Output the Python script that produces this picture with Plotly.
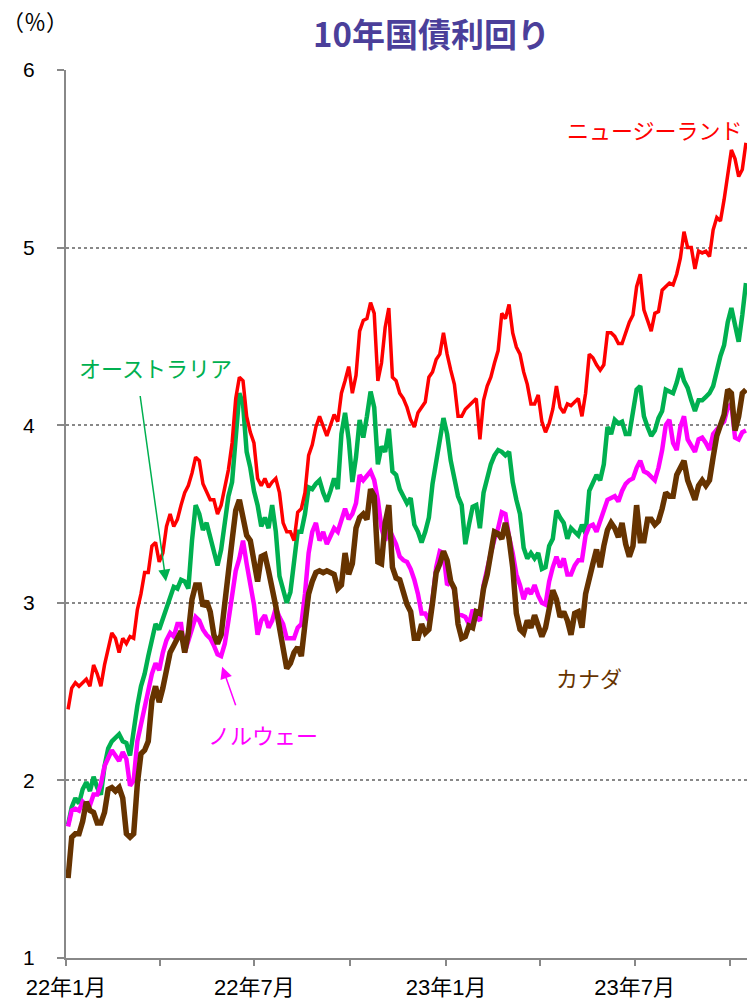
import pandas as pd
import plotly.graph_objects as go

# observation dates: every 3.5 days from 2022-01-03 to 2023-10-16
dates = pd.date_range("2022-01-03", periods=187, freq="84h")

nz = [2.40, 2.52, 2.55, 2.53, 2.55, 2.57, 2.53, 2.65, 2.60, 2.53,
      2.65, 2.75, 2.83, 2.80, 2.72, 2.80, 2.77, 2.81, 2.80, 2.96,
      3.05, 3.17, 3.17, 3.32, 3.34, 3.23, 3.28, 3.43, 3.50, 3.43,
      3.47, 3.55, 3.62, 3.66, 3.73, 3.82, 3.80, 3.67, 3.63, 3.58,
      3.58, 3.50, 3.55, 3.66, 3.75, 3.90, 4.15, 4.27, 4.25, 4.05,
      3.96, 3.90, 3.70, 3.66, 3.70, 3.65, 3.68, 3.70, 3.62, 3.45,
      3.40, 3.40, 3.35, 3.51, 3.53, 3.62, 3.83, 3.89, 3.99, 4.05,
      4.00, 3.94, 4.00, 4.06, 4.02, 4.18, 4.25, 4.33, 4.18, 4.28,
      4.53, 4.59, 4.60, 4.69, 4.63, 4.25, 4.35, 4.55, 4.66, 4.27,
      4.25, 4.18, 4.15, 4.10, 4.03, 3.99, 4.07, 4.10, 4.13, 4.27,
      4.30, 4.37, 4.40, 4.52, 4.40, 4.31, 4.23, 4.05, 4.05, 4.09,
      4.11, 4.13, 4.15, 3.92, 4.14, 4.22, 4.27, 4.35, 4.42, 4.63,
      4.60, 4.68, 4.52, 4.44, 4.40, 4.30, 4.23, 4.12, 4.12, 4.17,
      4.02, 3.96, 4.01, 4.09, 4.22, 4.10, 4.07, 4.12, 4.11, 4.13,
      4.15, 4.05, 4.18, 4.40, 4.38, 4.34, 4.31, 4.34, 4.52, 4.52,
      4.50, 4.46, 4.46, 4.52, 4.58, 4.62, 4.78, 4.85, 4.65, 4.59,
      4.53, 4.63, 4.64, 4.76, 4.78, 4.80, 4.79, 4.85, 4.94, 5.09,
      5.00, 5.00, 4.88, 4.98, 4.97, 4.98, 4.95, 5.10, 5.17, 5.15,
      5.27, 5.40, 5.55, 5.50, 5.40, 5.44, 5.59]

au = [1.75, 1.85, 1.90, 1.87, 1.95, 1.99, 1.94, 2.02, 1.96, 1.92,
      2.08, 2.18, 2.22, 2.24, 2.26, 2.22, 2.21, 2.14, 2.30, 2.42,
      2.53, 2.60, 2.70, 2.80, 2.88, 2.85, 2.91, 2.98, 3.04, 3.09,
      3.08, 3.13, 3.12, 3.08, 3.35, 3.55, 3.50, 3.41, 3.45, 3.37,
      3.29, 3.21, 3.30, 3.45, 3.60, 3.68, 3.95, 4.18, 4.12, 3.85,
      3.76, 3.63, 3.55, 3.43, 3.48, 3.42, 3.55, 3.40, 3.15, 3.07,
      3.00, 3.06, 3.25, 3.40, 3.40, 3.50, 3.65, 3.64, 3.67, 3.69,
      3.62, 3.57, 3.63, 3.70, 3.64, 3.95, 4.07, 3.92, 3.68, 3.82,
      4.03, 3.93, 4.05, 4.19, 4.10, 3.78, 3.88, 3.85, 3.98, 3.74,
      3.72, 3.64, 3.60, 3.56, 3.59, 3.44, 3.40, 3.34, 3.40, 3.48,
      3.67, 3.80, 3.95, 4.04, 3.95, 3.80, 3.70, 3.60, 3.55, 3.33,
      3.44, 3.54, 3.55, 3.42, 3.62, 3.71, 3.78, 3.83, 3.86, 3.85,
      3.83, 3.85, 3.68, 3.58, 3.50, 3.31, 3.25, 3.28, 3.25, 3.28,
      3.19, 3.20, 3.32, 3.36, 3.52, 3.48, 3.45, 3.36, 3.42, 3.40,
      3.38, 3.44, 3.39, 3.63, 3.67, 3.72, 3.69, 3.78, 3.99, 3.95,
      4.03, 4.01, 4.02, 3.95, 3.95, 4.06, 4.20, 4.22, 4.05, 3.99,
      3.94, 3.97, 4.04, 4.08, 4.20, 4.19, 4.18, 4.24, 4.32, 4.25,
      4.21, 4.14, 4.08, 4.14, 4.14, 4.16, 4.18, 4.22, 4.32, 4.39,
      4.45, 4.58, 4.66, 4.55, 4.47, 4.62, 4.80]

no = [1.74, 1.83, 1.84, 1.83, 1.88, 1.86, 1.86, 1.92, 1.92, 1.98,
      2.08, 2.12, 2.17, 2.14, 2.11, 2.16, 2.12, 1.97, 2.00, 2.22,
      2.32, 2.42, 2.50, 2.60, 2.66, 2.62, 2.72, 2.79, 2.83, 2.81,
      2.88, 2.88, 2.72, 2.79, 2.86, 2.92, 2.90, 2.85, 2.82, 2.80,
      2.76, 2.71, 2.70, 2.77, 2.90, 3.03, 3.18, 3.25, 3.35, 3.22,
      3.12, 2.99, 2.82, 2.90, 2.93, 2.86, 2.90, 2.97, 2.92, 2.88,
      2.80, 2.80, 2.80, 2.86, 2.88, 3.05, 3.28, 3.40, 3.45, 3.35,
      3.40, 3.33, 3.38, 3.42, 3.40, 3.47, 3.53, 3.47, 3.50, 3.56,
      3.72, 3.69, 3.72, 3.74, 3.69, 3.58, 3.42, 3.35, 3.42, 3.38,
      3.33, 3.26, 3.24, 3.23, 3.19, 3.13, 3.05, 2.94, 2.94, 2.90,
      3.02, 3.20, 3.29, 3.28, 3.10, 3.12, 3.07, 2.94, 2.93, 2.92,
      2.88, 2.96, 2.92, 2.90, 3.10, 3.20, 3.28, 3.36, 3.42, 3.51,
      3.50, 3.37, 3.28, 3.16, 3.10, 3.02, 3.08, 3.05, 3.10, 3.04,
      3.00, 2.99, 3.12, 3.20, 3.26, 3.20, 3.25, 3.16, 3.16, 3.21,
      3.24, 3.24, 3.38, 3.43, 3.44, 3.40, 3.46, 3.52, 3.58, 3.59,
      3.60, 3.57, 3.63, 3.67, 3.69, 3.70, 3.76, 3.80, 3.74, 3.73,
      3.71, 3.69, 3.76, 3.86, 4.00, 4.03, 3.90, 3.86, 3.99, 4.05,
      3.92, 3.88, 3.85, 3.92, 3.93, 3.90, 3.86, 3.95, 3.98, 4.00,
      4.02, 4.10, 4.12, 3.93, 3.92, 3.96, 3.97]

ca = [1.45, 1.68, 1.70, 1.70, 1.77, 1.88, 1.83, 1.82, 1.76, 1.76,
      1.82, 1.95, 1.96, 1.94, 1.96, 1.90, 1.70, 1.68, 1.70, 1.98,
      2.15, 2.17, 2.22, 2.45, 2.53, 2.44, 2.52, 2.62, 2.72, 2.76,
      2.80, 2.84, 2.72, 2.83, 3.02, 3.10, 3.10, 2.98, 3.01, 2.95,
      2.82, 2.77, 2.82, 2.98, 3.13, 3.35, 3.52, 3.58, 3.48, 3.38,
      3.35, 3.25, 3.12, 3.26, 3.27, 3.18, 3.09, 2.98, 2.86, 2.72,
      2.63, 2.66, 2.72, 2.75, 2.70, 2.88, 3.05, 3.12, 3.17, 3.18,
      3.17, 3.18, 3.17, 3.16, 3.08, 3.10, 3.28, 3.16, 3.22, 3.42,
      3.48, 3.50, 3.47, 3.64, 3.60, 3.23, 3.22, 3.45, 3.55, 3.20,
      3.14, 3.13, 3.06, 2.99, 2.95, 2.80, 2.80, 2.88, 2.83, 2.85,
      3.00, 3.17, 3.22, 3.29, 3.24, 3.12, 3.08, 2.88, 2.80, 2.81,
      2.87, 2.86, 2.95, 2.94, 3.08, 3.16, 3.28, 3.40, 3.39, 3.36,
      3.45, 3.36, 3.20, 2.94, 2.85, 2.83, 2.90, 2.86, 2.93, 2.86,
      2.81, 2.86, 2.98, 3.07, 3.02, 2.92, 2.95, 2.90, 2.82, 2.94,
      2.95, 2.86, 3.05, 3.15, 3.22, 3.30, 3.20, 3.32, 3.41, 3.45,
      3.42, 3.37, 3.45, 3.33, 3.26, 3.32, 3.55, 3.35, 3.35, 3.47,
      3.47, 3.44, 3.46, 3.53, 3.62, 3.60, 3.60, 3.72, 3.76, 3.80,
      3.69, 3.64, 3.58, 3.66, 3.69, 3.66, 3.69, 3.82, 3.94, 4.00,
      4.06, 4.20, 4.18, 3.97, 4.05, 4.18, 4.20]

tick_dates = ["2022-01-01", "2022-04-01", "2022-07-01", "2022-10-01",
              "2023-01-01", "2023-04-01", "2023-07-01", "2023-10-01"]
tick_text = ["22年1月", "", "22年7月", "", "23年1月", "", "23年7月", ""]

FONT = "Liberation Sans, Arial, Noto Sans CJK JP, sans-serif"
JP = "Noto Sans CJK JP"
C_NZ, C_AU, C_NO, C_CA = "#FF0000", "#00B050", "#FF00FF", "#663300"

fig = go.Figure()
fig.add_trace(go.Scatter(x=dates, y=au, mode="lines", line=dict(color=C_AU, width=4.5), name="オーストラリア"))
fig.add_trace(go.Scatter(x=dates, y=no, mode="lines", line=dict(color=C_NO, width=4.5), name="ノルウェー"))
fig.add_trace(go.Scatter(x=dates, y=ca, mode="lines", line=dict(color=C_CA, width=5.5), name="カナダ"))
fig.add_trace(go.Scatter(x=dates, y=nz, mode="lines", line=dict(color=C_NZ, width=3.5), name="ニュージーランド"))

fig.update_layout(
    width=747, height=1001,
    margin=dict(l=66, r=0, t=70, b=43, autoexpand=False),
    paper_bgcolor="white", plot_bgcolor="white",
    showlegend=False,
    font=dict(family=FONT, color="black"),
)
fig.update_xaxes(
    type="date", range=["2022-01-01", "2023-10-17"],
    tickvals=tick_dates, ticktext=tick_text,
    showgrid=False, zeroline=False,
    showline=True, linecolor="#888888", linewidth=2,
    ticks="outside", ticklen=6, tickcolor="#888888", tickwidth=2,
    tickfont=dict(size=22, family=FONT, color="black"),
    ticklabelstandoff=3,
)
fig.update_yaxes(
    range=[1, 6], dtick=1, tick0=1,
    showgrid=True, gridcolor="#888888", griddash="dot", gridwidth=1.5,
    zeroline=False,
    showline=True, linecolor="#888888", linewidth=2,
    ticks="outside", ticklen=7, tickcolor="#888888", tickwidth=2,
    tickfont=dict(size=21, family=FONT, color="black"),
    ticklabelstandoff=18,
)

ann = [
    dict(text="<b>10年国債利回り</b>", xref="paper", yref="paper", x=0.536, y=1.042,
         showarrow=False, font=dict(size=33, color="#4B3F9A", family=JP),
         xanchor="center", yanchor="middle"),
    dict(text="（％）", xref="paper", yref="paper", x=-0.0965, y=1.056,
         showarrow=False, font=dict(size=22, color="black", family=JP),
         xanchor="left", yanchor="middle"),
    dict(text="ニュージーランド", xref="paper", yref="y", x=0.997, y=5.67,
         showarrow=False, font=dict(size=22, color=C_NZ, family=JP),
         xanchor="right", yanchor="middle"),
    dict(text="オーストラリア", xref="x", yref="y", x="2022-03-28", y=4.33,
         showarrow=False, font=dict(size=22, color=C_AU, family=JP),
         xanchor="center", yanchor="middle"),
    dict(text="ノルウェー", xref="x", yref="y", x="2022-07-09", y=2.26,
         showarrow=False, font=dict(size=22, color=C_NO, family=JP),
         xanchor="center", yanchor="middle"),
    dict(text="カナダ", xref="x", yref="y", x="2023-05-18", y=2.58,
         showarrow=False, font=dict(size=22, color=C_CA, family=JP),
         xanchor="center", yanchor="middle"),
    dict(text="", xref="x", yref="y", x="2022-04-07", y=3.12, ax=-26, ay=-187,
         showarrow=True, arrowhead=2, arrowsize=1.6, arrowwidth=1.5, arrowcolor=C_AU),
    dict(text="", xref="x", yref="y", x="2022-05-31", y=2.64, ax=14, ay=40,
         showarrow=True, arrowhead=2, arrowsize=1.6, arrowwidth=1.5, arrowcolor=C_NO),
]
fig.update_layout(annotations=ann)

# remove the default 8px page margin so the 747x1001 figure fills the window exactly
fig.write_html(
    "out.html",
    config={"displayModeBar": False},
    post_script="document.body.style.margin='0px';document.body.style.overflow='hidden';"
                "document.documentElement.style.overflow='hidden';",
)
